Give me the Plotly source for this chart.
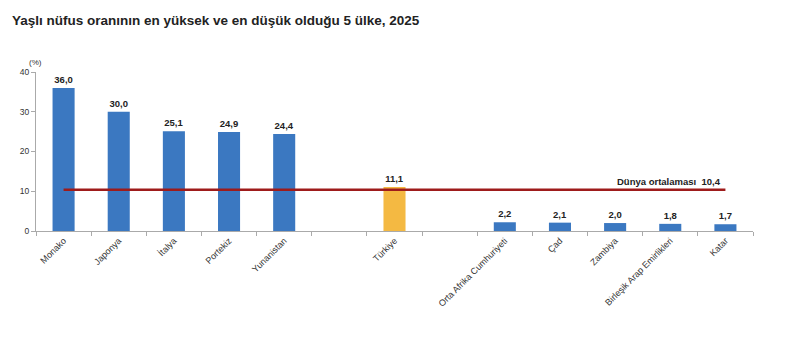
import plotly.graph_objects as go

categories = ["Monako", "Japonya", "İtalya", "Portekiz", "Yunanistan", " ", "Türkiye", "  ",
              "Orta Afrika Cumhuriyeti", "Çad", "Zambiya", "Birleşik Arap Emirlikleri", "Katar"]
values = [36.0, 30.0, 25.1, 24.9, 24.4, None, 11.1, None, 2.2, 2.1, 2.0, 1.8, 1.7]
world_avg = 10.4
title = "Yaşlı nüfus oranının en yüksek ve en düşük olduğu 5 ülke, 2025"

BLUE = "#3B78C1"
ORANGE = "#F4B942"
RED = "#9E1B1B"
FONT = "Arial, Liberation Sans, sans-serif"

colors = [ORANGE if c == "Türkiye" else BLUE for c in categories]
labels = ["" if v is None else "<b>" + f"{v:.1f}".replace(".", ",") + "</b>" for v in values]

fig = go.Figure()
fig.add_trace(go.Bar(
    x=categories, y=values, marker=dict(color=colors, line=dict(width=0)),
    width=0.4, text=labels, textposition="outside", cliponaxis=False,
    textfont=dict(family=FONT, size=9.5, color="#222"),
    hoverinfo="skip",
))
fig.add_trace(go.Scatter(
    x=[categories[0], categories[-1]], y=[world_avg, world_avg], mode="lines",
    line=dict(color=RED, width=2.5), hoverinfo="skip",
))
fig.add_annotation(
    x=categories[-1], y=world_avg, xref="x", yref="y",
    text="<b>Dünya ortalaması  " + f"{world_avg:.1f}".replace(".", ",") + "</b>",
    showarrow=False, xanchor="right", yanchor="bottom", xshift=-2, yshift=1,
    font=dict(family=FONT, size=9.5, color="#222"),
)
fig.add_annotation(
    x=0, y=1, xref="paper", yref="paper", text="(%)", showarrow=False,
    xanchor="left", yanchor="bottom", xshift=-9, yshift=3,
    font=dict(family=FONT, size=8, color="#333"),
)

fig.update_layout(
    width=800, height=337, margin=dict(l=36, r=47, t=72, b=106),
    paper_bgcolor="white", plot_bgcolor="white", showlegend=False,
    title=dict(text="<b>" + title + "</b>", x=0.015, xanchor="left", y=0.94, yanchor="middle",
               font=dict(family=FONT, size=13.5, color="#222")),
    bargap=0.6,
)
fig.update_xaxes(
    type="category", categoryorder="array", categoryarray=categories,
    tickangle=-45, tickson="boundaries", ticks="outside", ticklen=4, tickcolor="#aaa",
    showline=True, linecolor="#aaa", linewidth=1, showgrid=False,
    tickfont=dict(family=FONT, size=9, color="#333"),
)
fig.update_yaxes(
    range=[0, 40], tickvals=[0, 10, 20, 30, 40], ticks="outside", ticklen=4, tickcolor="#aaa",
    showline=True, linecolor="#aaa", linewidth=1, showgrid=False, zeroline=False,
    tickfont=dict(family=FONT, size=8.5, color="#333"),
)

fig.write_html("out.html")
